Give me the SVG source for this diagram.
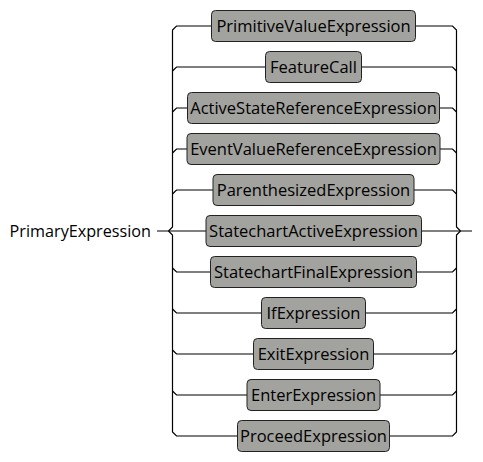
<svg xmlns="http://www.w3.org/2000/svg" width="483" height="462" viewBox="0 0 483 462">
<style>
text{font-family:"Open Sans","Noto Sans","DejaVu Sans",sans-serif;font-size:16.5px;fill:#000}
#label text{font-size:16.2px}
.n rect{fill:#a2a29e;stroke:#222;stroke-width:1}
.n text{text-anchor:middle}
#edges path{fill:none;stroke:#000;stroke-width:1.2}
</style>
<rect width="483" height="462" fill="#fff"/>
<g id="edges">
<path d="M157,231 H206 M421.5,231 H472"/>
<path d="M168.5,231 L172.5,227 V30 L176.5,26 H211.5"/>
<path d="M168.5,231 L172.5,235 V432 L176.5,436 H237.5"/>
<path d="M460.5,231 L456.5,227 V30 L452.5,26 H415.5"/>
<path d="M460.5,231 L456.5,235 V432 L452.5,436 H389.5"/>
<path d="M172.5,71 L176.5,67 H265.5 M361.5,67 H452.5 L456.5,71"/>
<path d="M172.5,112 L176.5,108 H187.5 M439.5,108 H452.5 L456.5,112"/>
<path d="M172.5,153 L176.5,149 H187 M440,149 H452.5 L456.5,153"/>
<path d="M172.5,194 L176.5,190 H213 M414,190 H452.5 L456.5,194"/>
<path d="M172.5,268 L176.5,272 H210.5 M416.5,272 H452.5 L456.5,268"/>
<path d="M172.5,309 L176.5,313 H261.5 M365.5,313 H452.5 L456.5,309"/>
<path d="M172.5,350 L176.5,354 H253.5 M373.5,354 H452.5 L456.5,350"/>
<path d="M172.5,391 L176.5,395 H247 M380,395 H452.5 L456.5,391"/>
</g>
<g id="label"><text x="151" y="237" text-anchor="end">PrimaryExpression</text></g>
<g id="n1" class="n"><rect x="211.5" y="10.5" width="204" height="31" rx="4"/><text x="313.5" y="32">PrimitiveValueExpression</text></g>
<g id="n2" class="n"><rect x="265.5" y="51.5" width="96" height="31" rx="4"/><text x="313.5" y="73">FeatureCall</text></g>
<g id="n3" class="n"><rect x="187.5" y="92.5" width="252" height="31" rx="4"/><text x="313.5" y="114">ActiveStateReferenceExpression</text></g>
<g id="n4" class="n"><rect x="187" y="133.5" width="253" height="31" rx="4"/><text x="313.5" y="155">EventValueReferenceExpression</text></g>
<g id="n5" class="n"><rect x="213" y="174.5" width="201" height="31" rx="4"/><text x="313.5" y="196">ParenthesizedExpression</text></g>
<g id="n6" class="n"><rect x="206" y="215.5" width="215.5" height="31" rx="4"/><text x="313.5" y="237">StatechartActiveExpression</text></g>
<g id="n7" class="n"><rect x="210.5" y="256.5" width="206" height="31" rx="4"/><text x="313.5" y="278">StatechartFinalExpression</text></g>
<g id="n8" class="n"><rect x="261.5" y="297.5" width="104" height="31" rx="4"/><text x="313.5" y="319">IfExpression</text></g>
<g id="n9" class="n"><rect x="253.5" y="338.5" width="120" height="31" rx="4"/><text x="313.5" y="360">ExitExpression</text></g>
<g id="n10" class="n"><rect x="247" y="379.5" width="133" height="31" rx="4"/><text x="313.5" y="401">EnterExpression</text></g>
<g id="n11" class="n"><rect x="237.5" y="420.5" width="152" height="31" rx="4"/><text x="313.5" y="442">ProceedExpression</text></g>
</svg>
